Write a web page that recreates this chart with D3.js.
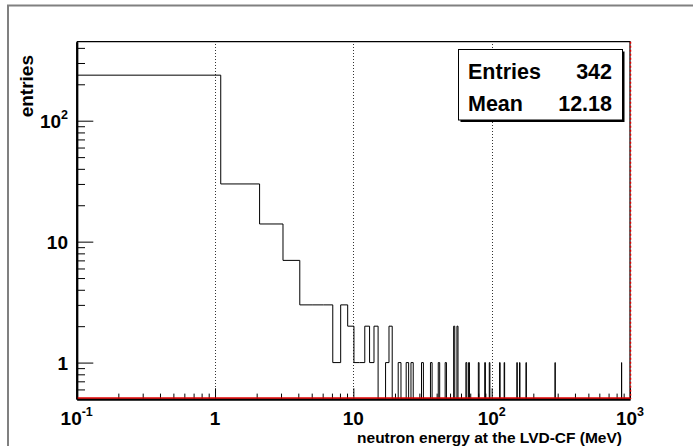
<!DOCTYPE html>
<html>
<head>
<meta charset="utf-8">
<script src="https://cdn.jsdelivr.net/npm/d3@7"></script>
<style>
  html, body { margin: 0; padding: 0; background: #fff; }
  svg { display: block; font-family: "Liberation Sans", Arial, Helvetica, sans-serif; font-weight: bold; }
</style>
</head>
<body>
<svg id="chart" width="693" height="446"></svg>
<script>
// histogram: 1000 bins from 0.1 to 1000 MeV
const binLow = 0.1;
const binWidth = 0.9999;
const nBins = 1000;

// bins 0..18
const lowCounts = [238, 30, 14, 7, 3, 3, 3, 1, 3, 2, 1, 1, 2, 1, 2, 0, 0, 1, 2];
// isolated spikes further out (bin index, count)
const spikeBins   = [21, 24, 26, 31, 36, 41, 46, 53, 56, 65, 68, 80, 89, 96, 114, 123, 152, 159, 177, 287, 869];
const spikeCounts = [1, 1, 1, 1, 1, 1, 1, 2, 2, 1, 1, 1, 1, 1, 1, 1, 1, 1, 1, 1, 1];

const xTicks = [0.1, 1, 10, 100, 1000];
const xTickBase = ['10', '1', '10', '10', '10'];
const xTickExp  = ['-1', '', '', '2', '3'];
const xMinor = [0.2, 0.3, 0.4, 0.5, 0.6, 0.7, 0.8, 0.9, 2, 3, 4, 5, 6, 7, 8, 9,
                20, 30, 40, 50, 60, 70, 80, 90, 200, 300, 400, 500, 600, 700, 800, 900];
const xGrid = [1, 10, 100];

const yTicks = [1, 10, 100];
const yTickBase = ['1', '10', '10'];
const yTickExp  = ['', '', '2'];
const yMinor = [0.6, 0.7, 0.8, 0.9, 2, 3, 4, 5, 6, 7, 8, 9,
                20, 30, 40, 50, 60, 70, 80, 90, 200, 300, 400];

const statNames  = ['Entries', 'Mean'];
const statValues = ['342', '12.18'];

const xTitle = 'neutron energy at the LVD-CF (MeV)';
const yTitle = 'entries';

const svg = d3.select('#chart');
const L = 76.7, R = 630, T = 41.7, B = 399;

const x = d3.scaleLog().domain([0.1, 1000]).range([L, R]);
const y = d3.scaleLog().domain([0.5, 450]).range([B, T]);

// outer canvas border (only top/left visible in the crop)
svg.append('path')
  .attr('d', 'M8,446V5.5H693')
  .attr('fill', 'none').attr('stroke', '#808080').attr('stroke-width', 2);

// full bin table
const counts = new Array(nBins).fill(0);
lowCounts.forEach((c, i) => counts[i] = c);
spikeBins.forEach((b, i) => counts[b] = spikeCounts[i]);

// grid
svg.append('g').selectAll('line')
  .data(xGrid).join('line')
  .attr('x1', d => Math.round(x(d)) + 0.5).attr('x2', d => Math.round(x(d)) + 0.5)
  .attr('y1', B).attr('y2', T)
  .attr('stroke', '#333').attr('stroke-width', 1).attr('stroke-dasharray', '1,2');

// histogram outline
const pts = [];
counts.forEach((c, i) => {
  const lo = binLow + i * binWidth, hi = lo + binWidth;
  const yy = y(Math.max(c, 0.5));
  pts.push([x(lo), yy], [x(hi), yy]);
});
svg.append('path')
  .attr('d', d3.line()(pts))
  .attr('fill', 'none').attr('stroke', '#000').attr('stroke-width', 1);

// axes
const xAxis = d3.axisBottom(x).tickValues(xTicks).tickSize(-10.7).tickSizeOuter(0).tickFormat('');
const xAxisMinor = d3.axisBottom(x).tickValues(xMinor).tickSize(-5.4).tickSizeOuter(0).tickFormat('');
const yAxis = d3.axisLeft(y).tickValues(yTicks).tickSize(-16.6).tickSizeOuter(0).tickFormat('');
const yAxisMinor = d3.axisLeft(y).tickValues(yMinor).tickSize(-8.3).tickSizeOuter(0).tickFormat('');

svg.append('g').attr('transform', `translate(0,${B})`).call(xAxisMinor);
svg.append('g').attr('transform', `translate(0,${B})`).call(xAxis);
svg.append('g').attr('transform', `translate(${L},0)`).call(yAxisMinor);
svg.append('g').attr('transform', `translate(${L},0)`).call(yAxis);
svg.selectAll('.tick line').attr('stroke', '#000');
svg.selectAll('.domain').attr('stroke', '#000').attr('stroke-width', 2);

// top and right frame
svg.append('path')
  .attr('d', `M${L},${T}H${R}V${B}`)
  .attr('fill', 'none').attr('stroke', '#000').attr('stroke-width', 1.2);

// red line along the bottom and right edge
svg.append('line')
  .attr('x1', L + 1).attr('x2', R).attr('y1', B - 1).attr('y2', B - 1)
  .attr('stroke', '#e00000').attr('stroke-width', 1.5);
svg.append('line')
  .attr('x1', R + 0.5).attr('x2', R + 0.5).attr('y1', T).attr('y2', B)
  .attr('stroke', '#e00000').attr('stroke-width', 1.5).attr('stroke-dasharray', '2,2');

// tick labels
const xl = svg.append('g').selectAll('text')
  .data(xTicks).join('text')
  .attr('x', d => x(d)).attr('y', 424.5)
  .attr('text-anchor', 'middle').attr('font-size', 19);
xl.append('tspan').text((d, i) => xTickBase[i]);
xl.append('tspan').attr('font-size', 12.5).attr('dy', -8.5).text((d, i) => xTickExp[i]);

const yl = svg.append('g').selectAll('text')
  .data(yTicks).join('text')
  .attr('x', 68).attr('y', d => y(d) + 7)
  .attr('text-anchor', 'end').attr('font-size', 19);
yl.append('tspan').text((d, i) => yTickBase[i]);
yl.append('tspan').attr('font-size', 12.5).attr('dy', -8.5).text((d, i) => yTickExp[i]);

// axis titles
svg.append('text')
  .attr('x', 622).attr('y', 442.5)
  .attr('text-anchor', 'end').attr('font-size', 15.5)
  .text(xTitle);
svg.append('text')
  .attr('transform', 'translate(33,55) rotate(-90)')
  .attr('text-anchor', 'end').attr('font-size', 19)
  .text(yTitle);

// stats box
const bx = 458.5, by = 49.5, bw = 164, bh = 70.5;
svg.append('rect')
  .attr('x', bx + 2).attr('y', by + 2).attr('width', bw).attr('height', bh)
  .attr('fill', '#000');
svg.append('rect')
  .attr('x', bx).attr('y', by).attr('width', bw).attr('height', bh)
  .attr('fill', '#fff').attr('stroke', '#000').attr('stroke-width', 1);
const rows = svg.append('g').selectAll('g')
  .data(statNames).join('g')
  .attr('font-size', 21.5);
rows.append('text')
  .attr('x', 468).attr('y', (d, i) => 79 + i * 32)
  .text(d => d);
rows.append('text')
  .attr('x', 612).attr('y', (d, i) => 79 + i * 32)
  .attr('text-anchor', 'end')
  .text((d, i) => statValues[i]);
</script>
</body>
</html>
